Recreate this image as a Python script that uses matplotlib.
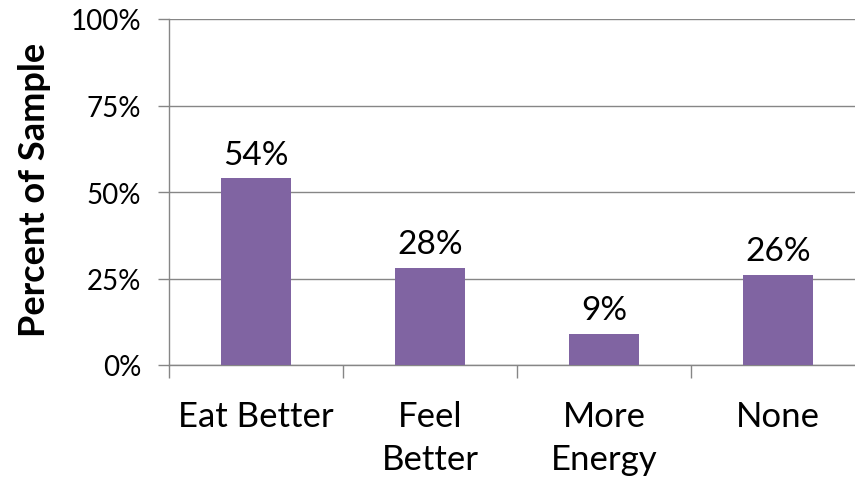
import matplotlib.pyplot as plt
import numpy as np

categories = ["Eat Better", "Feel\nBetter", "More\nEnergy", "None"]
values = [54, 28, 9, 26]
labels = ["54%", "28%", "9%", "26%"]
yticks = [0, 25, 50, 75, 100]

plt.rcParams['font.family'] = ['Lato', 'DejaVu Sans']

fig = plt.figure(figsize=(8.55, 4.89), dpi=100)
ax = fig.add_axes([169 / 855, 1 - 366 / 489, 696 / 855, 346 / 489])

x = np.arange(len(categories))
ax.bar(x, values, width=0.4, color='#8064A2', zorder=3)
for xi, v, lab in zip(x, values, labels):
    ax.text(xi, v + 2.5, lab, ha='center', va='bottom', fontsize=24, color='#000000')

ax.set_xlim(-0.5, len(categories) - 0.5)
ax.set_ylim(0, 100)
ax.set_yticks(yticks)
ax.set_yticklabels([f"{t}%" for t in yticks], fontsize=20)
ax.yaxis.grid(True, color='#868686', linewidth=1, zorder=0)

# category separators as x ticks
ax.set_xticks(np.arange(len(categories) + 1) - 0.5)
ax.set_xticklabels([])
ax.tick_params(axis='x', length=9, color='#868686', width=1)
ax.tick_params(axis='y', length=8, color='#868686', width=1, pad=12)
for xi, cat in zip(x, categories):
    ax.text(xi, -10, cat, ha='center', va='top', fontsize=25, linespacing=1.45)

for s in ['top', 'right']:
    ax.spines[s].set_visible(False)
for s in ['left', 'bottom']:
    ax.spines[s].set_color('#868686')
    ax.spines[s].set_linewidth(1)

fig.text(35 / 855, 1 - 190 / 489, "Percent of Sample", rotation=90, ha='center', va='center',
         fontsize=26, fontweight='bold')

fig.savefig("out.png", dpi=100)
